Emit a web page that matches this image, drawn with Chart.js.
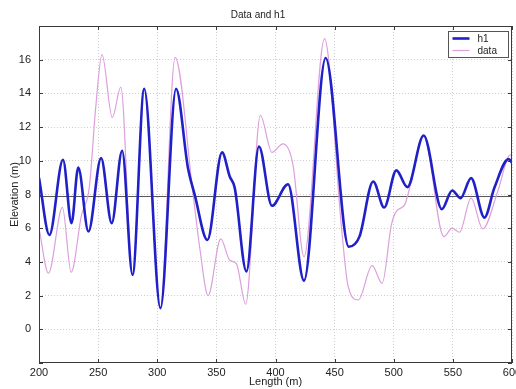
<!DOCTYPE html>
<html><head><meta charset="utf-8">
<script src="https://cdn.jsdelivr.net/npm/chart.js@4.4.1/dist/chart.umd.min.js"></script>
<style>html,body{margin:0;padding:0;background:#fff;overflow:hidden}canvas{display:block}</style>
</head><body>
<canvas id="c" width="516" height="389"></canvas>
<script>
const h1Length = [200, 208.8, 220.3, 227.5, 233.2, 241.8, 252.5, 261.5, 270.3, 279.1, 289, 302.7, 315.9, 326, 331.7, 342.4, 354.8, 361.3, 365.5, 375.4, 386, 397, 410.6, 424.1, 442.4, 462, 471, 482.6, 491.9, 502.2, 511.5, 525.3, 540.7, 549.4, 556.5, 565.4, 576.7, 585.1, 597.2, 600];
const h1Elevation = [9.0, 5.6, 10.06, 6.3, 9.6, 5.8, 10.16, 6.3, 10.6, 3.23, 14.28, 1.25, 14.28, 9.56, 7.98, 5.3, 10.5, 9.07, 8.4, 3.43, 10.85, 7.33, 8.61, 2.89, 16.1, 4.9, 5.5, 8.77, 7.23, 9.43, 8.44, 11.5, 7.13, 8.24, 7.78, 8.97, 6.63, 8.4, 10.1, 9.9];
const dataLength = [200, 208, 219.8, 227.2, 236, 242.5, 248, 253.3, 262, 269.2, 279.1, 289, 302.7, 315.1, 330, 336, 343, 353.7, 361.3, 366.9, 374.8, 387.2, 397, 406.3, 414.8, 424.1, 441.5, 455.6, 461.3, 470, 481.7, 490.2, 498, 502.2, 509.3, 513.5, 525.3, 542.4, 549.4, 555.6, 565.4, 575.3, 588, 598.6, 600];
const dataElevation = [6.0, 3.33, 7.23, 3.39, 6.8, 8.4, 13.2, 16.3, 12.57, 14.38, 3.23, 14.28, 1.25, 16.14, 8.2, 4.8, 2.0, 5.37, 4.1, 3.9, 1.49, 12.7, 10.5, 11.0, 9.76, 4.3, 17.25, 6.2, 2.6, 1.74, 3.78, 2.73, 6.2, 7.0, 7.4, 8.4, 11.5, 5.5, 6.0, 5.76, 7.78, 5.96, 8.2, 10.36, 10.2];
const meanLength = [200, 600];
const meanElevation = [7.88, 7.88];
const xTickValues = [200, 250, 300, 350, 400, 450, 500, 550, 600];
const yTickValues = [-2, 0, 2, 4, 6, 8, 10, 12, 14, 16, 18];
const yTickLabels = [0, 2, 4, 6, 8, 10, 12, 14, 16];

const FONT = "'Liberation Sans', Arial, sans-serif";
const pts = (xs, ys) => xs.map((x, i) => ({x: x, y: ys[i]}));

const framePlugin = {
  id: 'frame',
  afterDatasetsDraw(chart) {
    const {ctx, chartArea: a, scales} = chart;
    ctx.save();
    ctx.strokeStyle = '#3a3a3a';
    ctx.lineWidth = 1;
    ctx.strokeRect(Math.round(a.left) + 0.5, Math.round(a.top) + 0.5, Math.round(a.right - a.left) - 1, Math.round(a.bottom - a.top) - 1);
    ctx.beginPath();
    const tl = 4;
    xTickValues.forEach(v => {
      const px = Math.round(scales.x.getPixelForValue(v)) + 0.5;
      ctx.moveTo(px, a.bottom); ctx.lineTo(px, a.bottom - tl);
      ctx.moveTo(px, a.top); ctx.lineTo(px, a.top + tl);
    });
    yTickValues.forEach(v => {
      const py = Math.round(scales.y.getPixelForValue(v)) + 0.5;
      ctx.moveTo(a.left, py); ctx.lineTo(a.left + tl, py);
      ctx.moveTo(a.right, py); ctx.lineTo(a.right - tl, py);
    });
    ctx.stroke();
    // legend
    const w = 60, h = 26;
    const x0 = Math.round(a.right) - 63.5, y0 = Math.round(a.top) + 5.5;
    ctx.fillStyle = '#fff';
    ctx.fillRect(x0, y0, w, h);
    ctx.strokeStyle = '#555';
    ctx.strokeRect(x0, y0, w, h);
    ctx.font = '10px ' + FONT;
    ctx.textBaseline = 'middle';
    ctx.textAlign = 'left';
    chart.data.datasets.slice(0, 2).forEach((ds, i) => {
      const yy = y0 + 7 + i * 12;
      ctx.strokeStyle = ds.borderColor;
      ctx.lineWidth = ds.borderWidth;
      ctx.beginPath(); ctx.moveTo(x0 + 4, yy); ctx.lineTo(x0 + 21, yy); ctx.stroke();
      ctx.fillStyle = '#222';
      ctx.fillText(ds.label, x0 + 29, yy + 0.5);
    });
    ctx.restore();
  }
};

new Chart(document.getElementById('c'), {
  type: 'line',
  data: {
    datasets: [
      {label: 'h1', data: pts(h1Length, h1Elevation), borderColor: '#2020c8', borderWidth: 2.6, pointRadius: 0, cubicInterpolationMode: 'monotone', fill: false},
      {label: 'data', data: pts(dataLength, dataElevation), borderColor: '#dca0dc', borderWidth: 1.2, pointRadius: 0, cubicInterpolationMode: 'monotone', fill: false},
      {label: 'mean', data: pts(meanLength, meanElevation), borderColor: '#555555', borderWidth: 1, pointRadius: 0, fill: false}
    ]
  },
  options: {
    responsive: false,
    devicePixelRatio: 1,
    animation: false,
    layout: {padding: 0},
    plugins: {
      legend: {display: false},
      tooltip: {enabled: false},
      title: {display: true, text: 'Data and h1', color: '#222', font: {family: FONT, size: 10, weight: 'normal'}, padding: {top: 9, bottom: 5}}
    },
    scales: {
      x: {
        type: 'linear', min: 200, max: 600,
        afterBuildTicks: s => { s.ticks = xTickValues.map(v => ({value: v})); },
        afterFit: s => { s.height = 26; s.paddingLeft = 0; s.paddingRight = 4; },
        ticks: {color: '#222', font: {family: FONT, size: 11}, padding: 3, maxRotation: 0, autoSkip: false},
        grid: {color: '#cfcfcf', drawTicks: false, lineWidth: 1},
        border: {display: false, dash: [1, 2]},
        title: {display: true, text: 'Length (m)', color: '#222', font: {family: FONT, size: 11}, padding: {top: 0, bottom: 0}}
      },
      y: {
        type: 'linear', min: -2, max: 18,
        afterBuildTicks: s => { s.ticks = yTickValues.map(v => ({value: v})); },
        afterFit: s => { s.width = 39; s.paddingTop = 0; s.paddingBottom = 0; },
        ticks: {color: '#222', font: {family: FONT, size: 11}, padding: 8, autoSkip: false,
          callback: v => yTickLabels.includes(v) ? String(v) : null},
        grid: {color: '#cfcfcf', drawTicks: false, lineWidth: 1},
        border: {display: false, dash: [1, 2]},
        title: {display: true, text: 'Elevation (m)', color: '#222', font: {family: FONT, size: 11}, padding: {top: 8, bottom: 0}}
      }
    }
  },
  plugins: [framePlugin]
});
</script>
</body></html>
